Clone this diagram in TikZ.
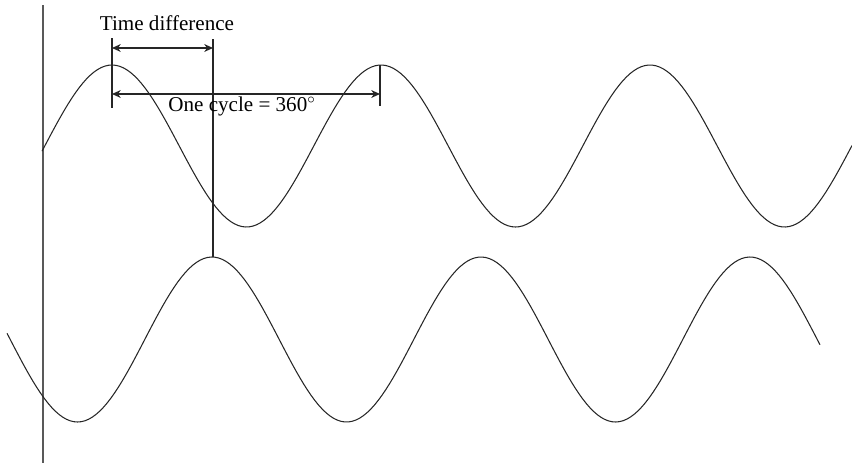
\documentclass[tikz,border=0pt]{standalone}
\usepackage{fontspec}
\setmainfont{Liberation Serif}
\usepackage{tikz}
\usetikzlibrary{arrows.meta,positioning}

\begin{document}
\begin{tikzpicture}[x=0.02cm,y=-0.02cm,
  wave/.style={line width=0.6pt,black!85},
  axisln/.style={line width=0.9pt,black!65},
  tick/.style={line width=0.6pt,black!85},
  dim/.style={line width=0.6pt,black!85,{Stealth[length=5pt,width=4.5pt]}-{Stealth[length=5pt,width=4.5pt]}},
  lbl/.style={font=\fontsize{12}{14}\selectfont,inner sep=0pt}]
  \useasboundingbox (0,0) rectangle (852,467);
  % reference axis
  \coordinate (axT) at (43,5);
  \coordinate (axB) at (43,463);
  \draw[axisln] (axT) -- (axB);
  % waves: period 269 px
  \draw[wave] plot[domain=42:852,samples=220] (\x,{146-81*cos((\x-112)/269*360)});
  \draw[wave] plot[domain=7:820,samples=220] (\x,{339.5-82.5*cos((\x-212)/269*360)});
  % tick lines at the peaks
  \coordinate (pkA) at (112,38);  \coordinate (pkAb) at (112,108);
  \coordinate (pkT) at (213,39);  \coordinate (pkTb) at (213,257);
  \coordinate (pkB) at (380,65);  \coordinate (pkBb) at (380,106);
  \draw[tick] (pkA) -- (pkAb);
  \draw[tick] (pkT) -- (pkTb);
  \draw[tick] (pkB) -- (pkBb);
  % dimension arrows
  \coordinate (tdL) at (112,48);  \coordinate (tdR) at (213,48);
  \coordinate (ocL) at (112,94);  \coordinate (ocR) at (380,94);
  \draw[dim] (tdL) -- (tdR);
  \draw[dim] (ocL) -- (ocR);
  % labels
  \node[lbl] (tdlbl) at (167,23) {Time difference};
  \node[lbl] (oclbl) at (242,106) {One cycle = 360$^{\circ}$};
\end{tikzpicture}
\end{document}
